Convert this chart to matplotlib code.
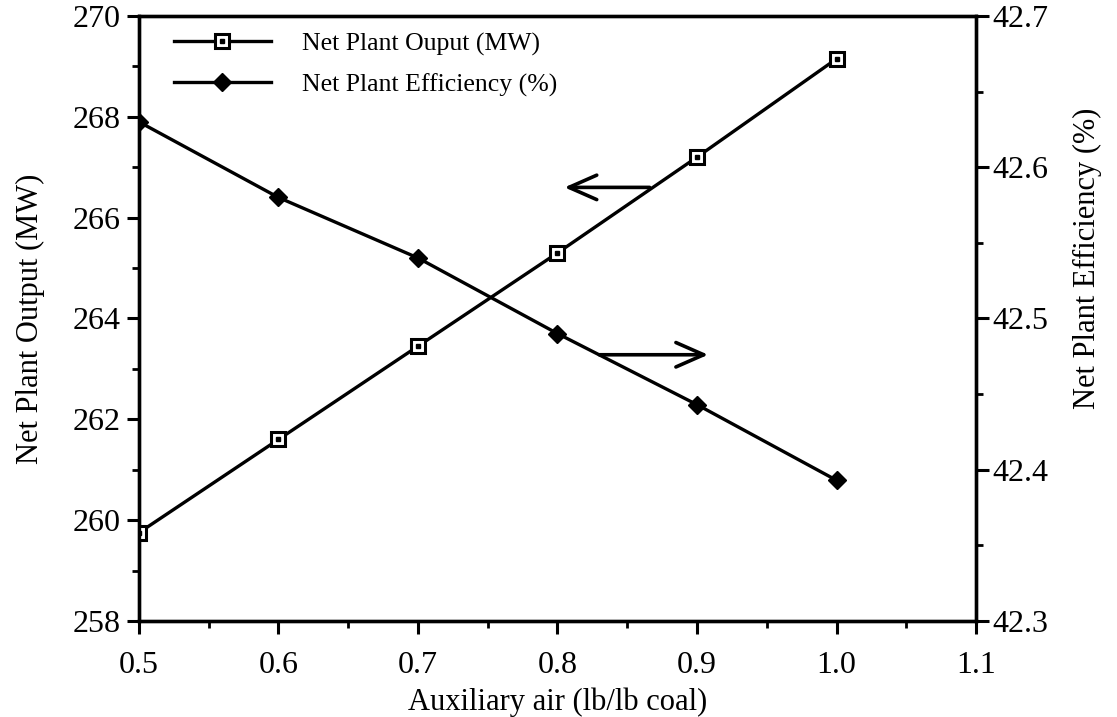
import matplotlib
matplotlib.use("Agg")
import matplotlib.pyplot as plt
from matplotlib.ticker import MultipleLocator, FormatStrFormatter
from matplotlib.legend_handler import HandlerTuple

plt.rcParams['font.family'] = ['Liberation Serif', 'DejaVu Serif']

aux_air = [0.5, 0.6, 0.7, 0.8, 0.9, 1.0]
net_output = [259.75, 261.6, 263.45, 265.3, 267.2, 269.15]
net_eff = [42.630, 42.580, 42.540, 42.490, 42.443, 42.393]

label_output = "Net Plant Ouput (MW)"
label_eff = "Net Plant Efficiency (%)"

fig = plt.figure(figsize=(11.17, 7.17), dpi=100)
ax = fig.add_axes([0.1244, 0.134, 0.7494, 0.8437])
ax2 = ax.twinx()

lw = 2.4
l1, = ax.plot(aux_air, net_output, color='black', lw=lw, marker='s', ms=10,
              mfc='white', mec='black', mew=2.2, zorder=3)
d1, = ax.plot(aux_air, net_output, ls='none', marker='s', ms=2.5, color='black', zorder=4)
l2, = ax2.plot(aux_air, net_eff, color='black', lw=lw, marker='D', ms=9,
               mfc='black', mec='black', zorder=3)

ax.set_xlim(0.5, 1.1)
ax.set_ylim(258, 270)
ax2.set_ylim(42.3, 42.7)

ax.xaxis.set_major_locator(MultipleLocator(0.1))
ax.xaxis.set_minor_locator(MultipleLocator(0.05))
ax.xaxis.set_major_formatter(FormatStrFormatter('%.1f'))
ax.yaxis.set_major_locator(MultipleLocator(2))
ax.yaxis.set_minor_locator(MultipleLocator(1))
ax2.yaxis.set_major_locator(MultipleLocator(0.1))
ax2.yaxis.set_minor_locator(MultipleLocator(0.05))
ax2.yaxis.set_major_formatter(FormatStrFormatter('%.1f'))

for a in (ax, ax2):
    for s in a.spines.values():
        s.set_linewidth(2.4)
ax.tick_params(axis='both', which='major', direction='out', length=9, width=2.2,
               labelsize=23, pad=4)
ax.tick_params(axis='x', which='major', pad=13)
ax.tick_params(axis='both', which='minor', direction='out', length=5, width=2.0)
ax2.tick_params(axis='y', which='major', direction='out', length=9, width=2.2,
                labelsize=23, pad=3)
ax2.tick_params(axis='y', which='minor', direction='out', length=5, width=2.0)

ax.set_xlabel("Auxiliary air (lb/lb coal)", fontsize=22, labelpad=5)
ax.set_ylabel("Net Plant Output (MW)", fontsize=22, labelpad=20)
ax2.set_ylabel("Net Plant Efficiency (%)", fontsize=22)
ax2.yaxis.set_label_coords(1.116, 0.60)

# arrows pointing to the respective axes
arrow_style = '->,head_length=0.5,head_width=0.22'
ax.annotate("", xy=(0.805, 266.6), xytext=(0.866, 266.6),
            arrowprops=dict(arrowstyle=arrow_style, lw=2.6, color='black',
                            mutation_scale=40, shrinkA=0, shrinkB=0))
ax2.annotate("", xy=(0.908, 42.476), xytext=(0.830, 42.476),
             arrowprops=dict(arrowstyle=arrow_style, lw=2.6, color='black',
                             mutation_scale=40, shrinkA=0, shrinkB=0))

leg = ax.legend([(l1, d1), l2], [label_output, label_eff],
                handler_map={tuple: HandlerTuple(ndivide=1)},
                loc='upper left', bbox_to_anchor=(0.029, 0.99),
                borderaxespad=0, frameon=False, fontsize=18.5,
                handlelength=3.8, handletextpad=1.2, labelspacing=0.68)

fig.savefig("out.png", dpi=100)
